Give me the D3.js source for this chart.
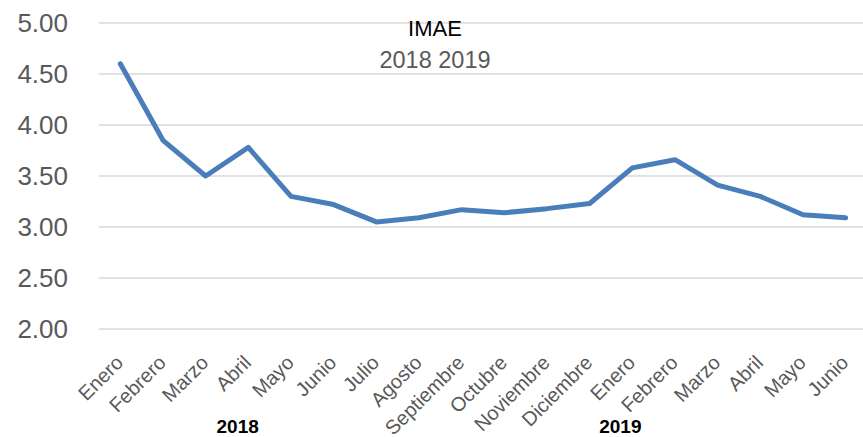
<!DOCTYPE html>
<html>
<head>
<meta charset="utf-8">
<script src="https://d3js.org/d3.v7.min.js"></script>
<style>
  body { margin: 0; background: #fff; }
  svg { display: block; font-family: "Liberation Sans", Arial, sans-serif; }
</style>
</head>
<body>
<svg id="chart" width="863" height="437"></svg>
<script>
// IMAE monthly values, Jan 2018 - Jun 2019
const months = ["Enero", "Febrero", "Marzo", "Abril", "Mayo", "Junio", "Julio", "Agosto",
    "Septiembre", "Octubre", "Noviembre", "Diciembre",
    "Enero", "Febrero", "Marzo", "Abril", "Mayo", "Junio"];
const imae = [4.60, 3.85, 3.50, 3.78, 3.30, 3.22, 3.05, 3.09, 3.17, 3.14, 3.18, 3.23,
    3.58, 3.66, 3.41, 3.30, 3.12, 3.09];
const yTicks = [2.0, 2.5, 3.0, 3.5, 4.0, 4.5, 5.0];
// year labels sit at a fractional category position
const years = [{ label: "2018", at: 2.75 }, { label: "2019", at: 11.72 }];

const svg = d3.select("#chart");
const keys = months.map((m, i) => i);

const x = d3.scaleBand()
    .domain(keys)
    .range([99, 867]);

const y = d3.scaleLinear()
    .domain([2, 5])
    .range([329, 23]);

const cx = i => x(i) + x.bandwidth() / 2;

// gridlines
svg.append("g")
    .selectAll("line")
    .data(yTicks)
    .join("line")
    .attr("x1", 99)
    .attr("x2", 863)
    .attr("y1", d => y(d))
    .attr("y2", d => y(d))
    .attr("stroke", "#d9d9d9")
    .attr("stroke-width", 1.5);

// y labels
svg.append("g")
    .selectAll("text")
    .data(yTicks)
    .join("text")
    .attr("x", 68)
    .attr("y", d => y(d))
    .attr("dy", "0.36em")
    .attr("text-anchor", "end")
    .attr("font-size", 26)
    .attr("fill", "#595959")
    .text(d => d.toFixed(2));

// x labels, rotated
svg.append("g")
    .selectAll("text")
    .data(keys)
    .join("text")
    .attr("transform", i => `translate(${cx(i) + 4}, 364) rotate(-45)`)
    .attr("text-anchor", "end")
    .attr("font-size", 20)
    .attr("fill", "#595959")
    .text(i => months[i]);

// year labels
svg.append("g")
    .selectAll("text")
    .data(years)
    .join("text")
    .attr("x", d => x(0) + x.bandwidth() * (d.at + 0.5))
    .attr("y", 433)
    .attr("text-anchor", "middle")
    .attr("font-size", 19)
    .attr("font-weight", "bold")
    .attr("fill", "#000")
    .text(d => d.label);

// the line
const line = d3.line()
    .x((d, i) => cx(i))
    .y(d => y(d));

svg.append("path")
    .datum(imae)
    .attr("d", line)
    .attr("fill", "none")
    .attr("stroke", "#4a7ebb")
    .attr("stroke-width", 5)
    .attr("stroke-linejoin", "round")
    .attr("stroke-linecap", "round");

// title
svg.append("text")
    .attr("x", 435)
    .attr("y", 36)
    .attr("text-anchor", "middle")
    .attr("font-size", 22)
    .attr("fill", "#000")
    .text("IMAE");

svg.append("text")
    .attr("x", 435)
    .attr("y", 68)
    .attr("text-anchor", "middle")
    .attr("font-size", 23.5)
    .attr("fill", "#595959")
    .text("2018 2019");
</script>
</body>
</html>
